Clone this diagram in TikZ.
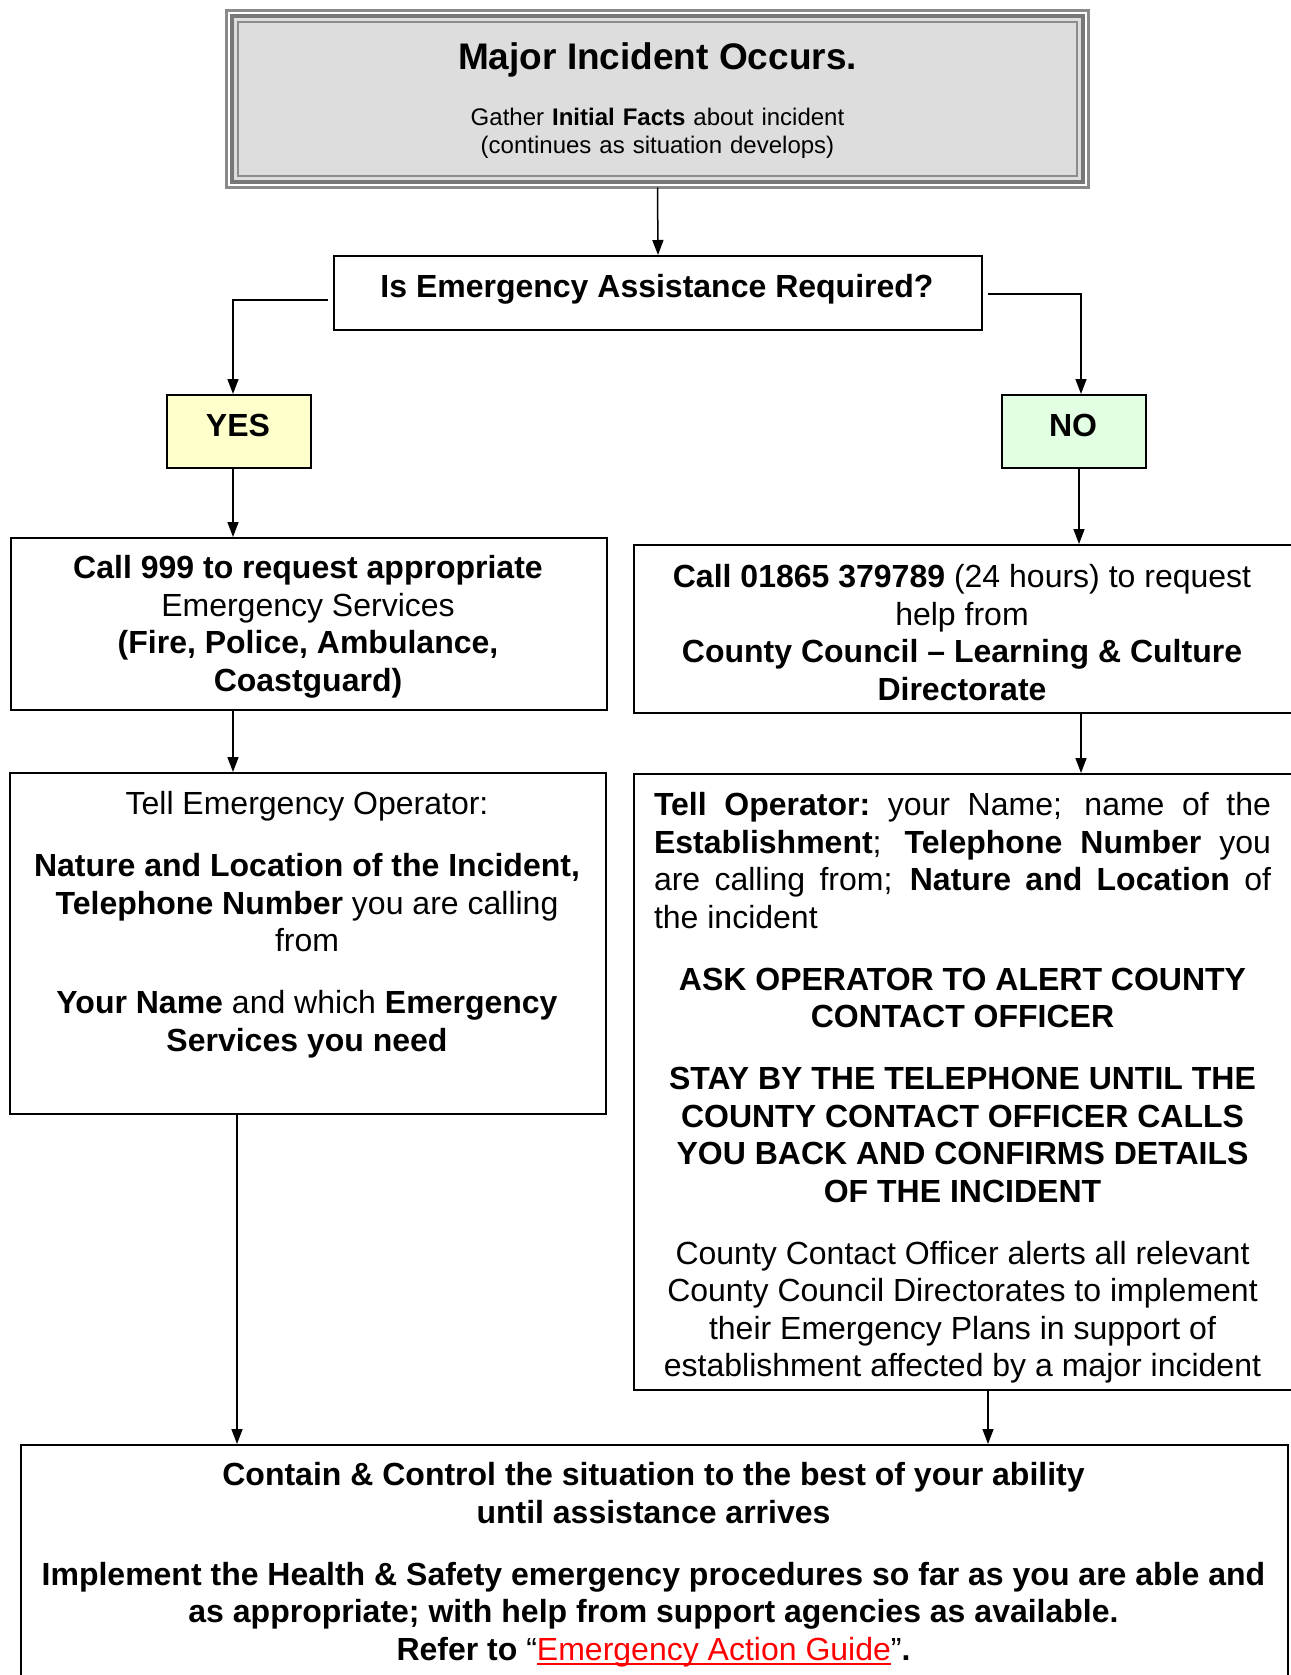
\documentclass[tikz,border=0pt]{standalone}
\usepackage{fontspec}
\setmainfont{Liberation Sans}
\usetikzlibrary{arrows.meta}
\definecolor{topfill}{HTML}{DDDDDD}
\definecolor{outerc}{HTML}{8A8A8A}
\definecolor{bandc}{HTML}{777777}
\definecolor{innerc}{HTML}{8C8C8C}
\definecolor{yesfill}{HTML}{FFFFCC}
\definecolor{nofill}{HTML}{E3FFE3}
\definecolor{linkred}{HTML}{FF0000}
\newcommand{\fsbig}{\fontsize{32pt}{37.5pt}\selectfont}
\newcommand{\redul}[1]{\setbox0\hbox{#1}\rlap{\rule[-5pt]{\wd0}{2.2pt}}\box0}
\newcommand{\jline}[1]{\makebox[617pt][s]{\spaceskip=8pt plus 100pt\xspaceskip=8pt plus 100pt\relax #1}}
\newcommand{\natsp}{\spaceskip=8.9pt\xspaceskip=8.9pt\relax}
\begin{document}
\begin{tikzpicture}[x=1pt,y=-1pt,
  box/.style={draw=black,line width=2pt,rectangle,anchor=north west,inner sep=0pt},
  txt/.style={anchor=base,inner sep=0pt,align=center,font=\fsbig},
  arr/.style={draw=black,line width=1.5pt,-{Triangle[length=15pt,width=11pt]}}]
\useasboundingbox (0,0) rectangle (1290,1675);

% top box
\node[draw=outerc,line width=2.7pt,fill=white,minimum width=862pt,minimum height=177pt,inner sep=0pt,outer sep=0pt] (top) at (657.5,99) {};
\draw[draw=bandc,line width=4.3pt,fill=topfill] ([xshift=5.7pt,yshift=-5.7pt]top.north west) rectangle ([xshift=-5.7pt,yshift=5.7pt]top.south east);
\draw[draw=innerc,line width=2.3pt] ([xshift=11.7pt,yshift=-11.7pt]top.north west) rectangle ([xshift=-11.7pt,yshift=11.7pt]top.south east);
\node[txt,font=\fontsize{37pt}{42pt}\selectfont\bfseries] (title) at (657.5,70) {Major Incident Occurs.};
\node[txt,font=\fontsize{24pt}{27.6pt}\selectfont,text width=600pt] (gather) at (657.5,126) {Gather \textbf{Initial Facts} about incident\\(continues as situation develops)};

% question
\node[box,minimum width=648pt,minimum height=74pt] (q) at (333,255) {};
\node[txt,font=\fsbig\bfseries] (qt) at (657,297.5) {Is Emergency Assistance Required?};

% yes / no
\node[box,fill=yesfill,minimum width=144pt,minimum height=73pt] (yes) at (166,394) {};
\node[txt,font=\fsbig\bfseries] (yest) at (238,436) {YES};
\node[box,fill=nofill,minimum width=144pt,minimum height=73pt] (no) at (1001,394) {};
\node[txt,font=\fsbig\bfseries] (not) at (1073,436) {NO};

% box 1
\node[box,minimum width=596pt,minimum height=172pt] (b1) at (10,537) {};
\node[txt,text width=580pt] (b1t) at (308,578.5) {\natsp\textbf{Call 999 to request appropriate}\\Emergency Services\\\textbf{(Fire, Police, Ambulance,}\\\textbf{Coastguard)}};

% box 2
\node[box,minimum width=680pt,minimum height=168pt] (b2) at (633,544) {};
\node[txt,text width=620pt] (b2t) at (962,587.5) {\natsp\textbf{Call 01865 379789} (24 hours) to request\\help from\\\textbf{County Council – Learning \& Culture}\\\textbf{Directorate}};

% box 3
\node[box,minimum width=596pt,minimum height=341pt] (b3) at (9,772) {};
\node[txt,text width=580pt] (b3t) at (307,814.5) {\natsp Tell Emergency Operator:\\[24.5pt]\textbf{Nature and Location of the Incident,}\\\textbf{Telephone Number} you are calling\\from\\[24.5pt]\textbf{Your Name} and which \textbf{Emergency}\\\textbf{Services you need}};

% box 4
\node[box,minimum width=680pt,minimum height=616pt] (b4) at (633,773) {};
\node[txt,text width=617pt] (b4t) at (962.5,815.5) {\natsp\jline{\textbf{Tell Operator:} your Name; name of the}\\\jline{\textbf{Establishment}; \textbf{Telephone Number} you}\\\jline{are calling from; \textbf{Nature and Location} of}\\\makebox[617pt][l]{the incident}\\[24.5pt]\textbf{ASK OPERATOR TO ALERT COUNTY}\\\textbf{CONTACT OFFICER}\\[24.5pt]\textbf{STAY BY THE TELEPHONE UNTIL THE}\\\textbf{COUNTY CONTACT OFFICER CALLS}\\\textbf{YOU BACK AND CONFIRMS DETAILS}\\\textbf{OF THE INCIDENT}\\[24.5pt]County Contact Officer alerts all relevant\\County Council Directorates to implement\\their Emergency Plans in support of\\establishment affected by a major incident};

% box 5
\node[box,minimum width=1267pt,minimum height=260pt] (b5) at (20,1444) {};
\node[txt,text width=1250pt] (b5t) at (653.5,1485.5) {\natsp\textbf{Contain \& Control the situation to the best of your ability}\\\textbf{until assistance arrives}\\[24.5pt]\textbf{Implement the Health \& Safety emergency procedures so far as you are able and}\\\textbf{as appropriate; with help from support agencies as available.}\\\textbf{Refer to} “\textcolor{linkred}{\redul{Emergency Action Guide}}”\textbf{.}};

% connector x positions
\coordinate (xl) at (233,0);
\coordinate (xr) at (1081,0);
\coordinate (xn) at (1079,0);
\coordinate (xl2) at (237,0);
\coordinate (xr2) at (988,0);

\draw[arr] (top.south) -- (q.north);
\draw[arr] ([xshift=-5pt,yshift=-7pt]q.west) -| (yes.north -| xl);
\draw[arr] ([xshift=5pt,yshift=-1pt]q.east) -| (no.north -| xr);
\draw[arr] (yes.south -| xl) -- (b1.north -| xl);
\draw[arr] (no.south -| xn) -- (b2.north -| xn);
\draw[arr] (b1.south -| xl) -- (b3.north -| xl);
\draw[arr] (b2.south -| xr) -- (b4.north -| xr);
\draw[arr] (b3.south -| xl2) -- (b5.north -| xl2);
\draw[arr] (b4.south -| xr2) -- (b5.north -| xr2);
\end{tikzpicture}
\end{document}
